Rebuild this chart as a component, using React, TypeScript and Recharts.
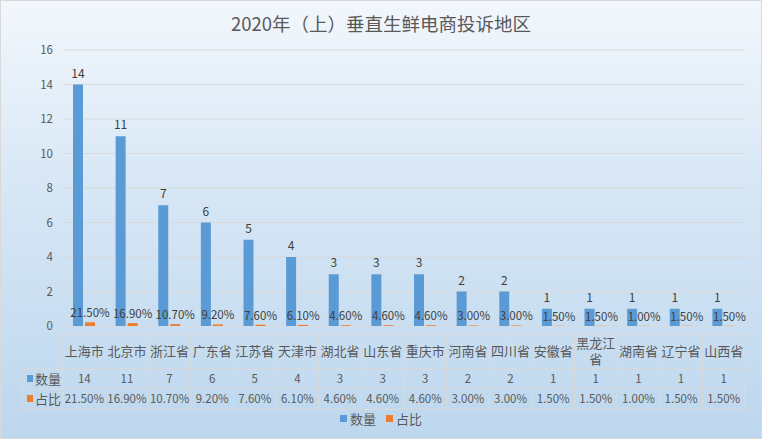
import { BarChart, Bar, XAxis, YAxis, CartesianGrid, LabelList } from 'recharts'

const categories = ['上海市', '北京市', '浙江省', '广东省', '江苏省', '天津市', '湖北省', '山东省', '重庆市', '河南省', '四川省', '安徽省', '黑龙江省', '湖南省', '辽宁省', '山西省']
const counts = [14, 11, 7, 6, 5, 4, 3, 3, 3, 2, 2, 1, 1, 1, 1, 1]
const shares = [21.5, 16.9, 10.7, 9.2, 7.6, 6.1, 4.6, 4.6, 4.6, 3.0, 3.0, 1.5, 1.5, 1.0, 1.5, 1.5]
const yTicks = [0, 2, 4, 6, 8, 10, 12, 14, 16]

const W = 762
const H = 439
const M = { top: 50, right: 17, bottom: 38, left: 0 }
const Y_W = 63
const BAND = (W - M.left - M.right - Y_W) / categories.length
const BLUE = '#5B9BD5'
const ORANGE = '#ED7D31'
const TXT = '#595959'
const LINE = '#d9d9d9'
const FONT = '"Noto Sans CJK SC", "Noto Sans", sans-serif'

const data = categories.map((name, i) => ({ name, count: counts[i], share: shares[i] / 100 }))

const pct = (v: number) => `${(v * 100).toFixed(2)}%`

// category names + data table rows under the plot
function TableTick(props: any) {
  const { x, y, payload } = props
  const i = payload.index
  const left = x - BAND / 2
  const right = x + BAND / 2
  const name: string = payload.value
  const lines = name.length > 3 ? [name.slice(0, 3), name.slice(3)] : [name]
  const r1 = y + 35
  const r2 = r1 + 20
  const r3 = r2 + 20
  return (
    <g fontFamily={FONT}>
      <line x1={left} y1={y} x2={right} y2={y} stroke={LINE} />
      <line x1={right} y1={y} x2={right} y2={r3} stroke={LINE} />
      {i === 0 && <line x1={left} y1={y} x2={left} y2={r3} stroke={LINE} />}
      <line x1={left} y1={r1} x2={right} y2={r1} stroke={LINE} />
      <line x1={left} y1={r2} x2={right} y2={r2} stroke={LINE} />
      <line x1={left} y1={r3} x2={right} y2={r3} stroke={LINE} />
      {lines.map((t, k) => (
        <text key={k} x={x} y={lines.length > 1 ? y + 14 + k * 16 : y + 22} textAnchor="middle" fontSize={13} fill={TXT}>
          {t}
        </text>
      ))}
      <text x={x} y={r1 + 14} textAnchor="middle" fontSize={11.5} fill={TXT}>{counts[i]}</text>
      <text x={x} y={r2 + 14} textAnchor="middle" fontSize={11.5} fill={TXT}>{shares[i].toFixed(2)}%</text>
      {i === 0 && (
        <g>
          <line x1={left - 41} y1={r1} x2={left} y2={r1} stroke={LINE} />
          <line x1={left - 41} y1={r2} x2={left} y2={r2} stroke={LINE} />
          <line x1={left - 41} y1={r3} x2={left} y2={r3} stroke={LINE} />
          <line x1={left - 41} y1={r1} x2={left - 41} y2={r3} stroke={LINE} />
          <rect x={left - 36} y={r1 + 6} width={6} height={7} fill={BLUE} />
          <text x={left - 28} y={r1 + 15} fontSize={13} fill={TXT}>数量</text>
          <rect x={left - 36} y={r2 + 6} width={6} height={7} fill={ORANGE} />
          <text x={left - 28} y={r2 + 15} fontSize={13} fill={TXT}>占比</text>
        </g>
      )}
    </g>
  )
}

function LegendBox() {
  return (
    <div
      style={{
        position: 'absolute',
        top: 408,
        width: '100%',
        display: 'flex',
        justifyContent: 'center',
        gap: 10,
        fontFamily: FONT,
        fontSize: 13,
        color: TXT,
      }}
    >
      <span style={{ display: 'flex', alignItems: 'center', gap: 3 }}>
        <span style={{ width: 7, height: 7, background: BLUE, display: 'inline-block' }} />数量
      </span>
      <span style={{ display: 'flex', alignItems: 'center', gap: 3 }}>
        <span style={{ width: 7, height: 7, background: ORANGE, display: 'inline-block' }} />占比
      </span>
    </div>
  )
}

export default function App() {
  return (
    <div
      style={{
        position: 'absolute',
        left: 0,
        top: 0,
        width: W,
        height: H,
        boxSizing: 'border-box',
        border: '1px solid #d9d9d9',
        background: 'linear-gradient(to bottom, #f2f7fc 0%, #d6e6f5 45%, #bdd7ee 100%)',
      }}
    >
      <div
        style={{
          position: 'absolute',
          top: 9,
          width: '100%',
          textAlign: 'center',
          fontFamily: FONT,
          fontSize: 18.5,
          lineHeight: '26px',
          color: TXT,
        }}
      >
        2020年（上）垂直生鲜电商投诉地区
      </div>
      <div style={{ position: 'absolute', left: -1, top: -1 }}>
        <BarChart width={W} height={H} data={data} margin={M} barSize={10} barGap={2}>
          <CartesianGrid vertical={false} stroke={LINE} />
          <XAxis
            dataKey="name"
            interval={0}
            height={75}
            tickLine={false}
            axisLine={false}
            tick={<TableTick />}
          />
          <YAxis
            width={Y_W}
            domain={[0, 16]}
            ticks={yTicks}
            axisLine={false}
            tickLine={false}
            tickMargin={4}
            tick={{ fontSize: 11.5, fill: TXT, fontFamily: FONT }}
          />
          <Bar dataKey="count" name="数量" fill={BLUE} isAnimationActive={false}>
            <LabelList dataKey="count" position="top" offset={7} style={{ fontSize: 12, fill: '#404040', fontFamily: FONT }} />
          </Bar>
          <Bar dataKey="share" name="占比" fill={ORANGE} isAnimationActive={false}>
            <LabelList
              dataKey="share"
              position="top"
              offset={5}
              formatter={(v: unknown) => pct(v as number)}
              style={{ fontSize: 11.5, fill: '#404040', fontFamily: FONT }}
            />
          </Bar>
        </BarChart>
      </div>
      <LegendBox />
    </div>
  )
}
